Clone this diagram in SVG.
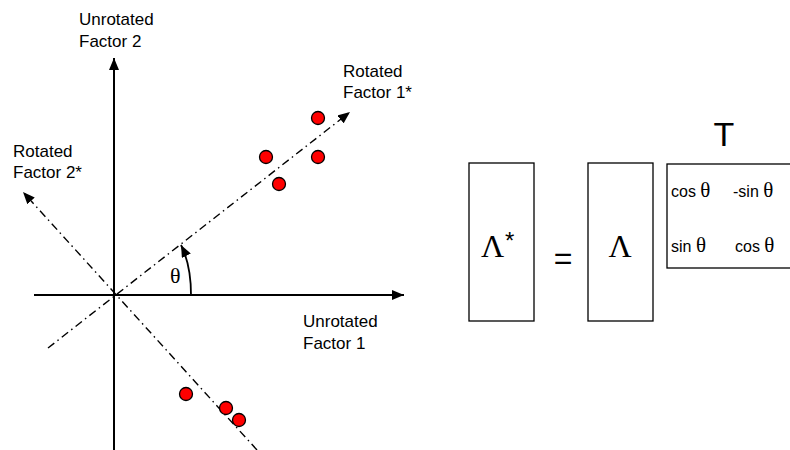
<svg xmlns="http://www.w3.org/2000/svg" width="790" height="450" viewBox="0 0 790 450">
<style>
.lbl{font-family:"Liberation Sans",Arial,sans-serif;font-size:17px;fill:#000}
.mx{font-family:"Liberation Sans",Arial,sans-serif;font-size:16px;fill:#000}
.ser{font-family:"Liberation Serif","Times New Roman",serif;fill:#000}
.axis{stroke:#000;stroke-width:2;fill:none}
.rot{stroke:#000;stroke-width:1.4;fill:none;stroke-dasharray:8 4 1.5 4}
.pt{fill:#f00;stroke:#000;stroke-width:1.3}
.box{fill:#fff;stroke:#000;stroke-width:1.3}
</style>
<defs>
<marker id="ah" viewBox="0 0 12 10" refX="12" refY="5" markerWidth="12" markerHeight="10" markerUnits="userSpaceOnUse" orient="auto">
<path d="M0,0 L12,5 L0,10 Z" fill="#000"/>
</marker>
</defs>
<rect width="790" height="450" fill="#fff"/>
<g id="connectors">
<line class="axis" x1="114" y1="450" x2="114" y2="58" marker-end="url(#ah)"/>
<line class="axis" x1="34" y1="295" x2="404" y2="295" marker-end="url(#ah)"/>
<line class="rot" x1="48" y1="348" x2="350" y2="112" marker-end="url(#ah)"/>
<line class="rot" x1="257" y1="450" x2="23" y2="192" marker-end="url(#ah)"/>
<path d="M191,295 Q191,265 181,245" stroke="#000" stroke-width="1.8" fill="none" marker-end="url(#ah)"/>
</g>
<g id="axis-labels">
<text class="lbl" x="79" y="25">Unrotated</text>
<text class="lbl" x="79" y="47">Factor 2</text>
<text class="lbl" x="303" y="327">Unrotated</text>
<text class="lbl" x="303" y="349">Factor 1</text>
<text class="lbl" x="343" y="77">Rotated</text>
<text class="lbl" x="343" y="98">Factor 1*</text>
<text class="lbl" x="13" y="157">Rotated</text>
<text class="lbl" x="13" y="178">Factor 2*</text>
<text class="ser" x="170" y="283" style="font-size:22px">θ</text>
</g>
<g id="points">
<circle class="pt" cx="318" cy="118" r="6.5"/>
<circle class="pt" cx="266" cy="157" r="6.5"/>
<circle class="pt" cx="318" cy="157" r="6.5"/>
<circle class="pt" cx="279" cy="184" r="6.5"/>
<circle class="pt" cx="186" cy="394" r="6.5"/>
<circle class="pt" cx="226" cy="408" r="6.5"/>
<circle class="pt" cx="239" cy="420" r="6.5"/>
</g>
<g id="lambda-star">
<rect class="box" x="469" y="163" width="65" height="158"/>
<text class="ser" x="481" y="257" style="font-size:32px">Λ</text>
<text class="lbl" x="505" y="249" style="font-size:24px">*</text>
</g>
<g id="equals">
<text class="lbl" x="563" y="269" style="font-size:32px" text-anchor="middle">=</text>
</g>
<g id="lambda">
<rect class="box" x="588" y="163" width="65" height="158"/>
<text class="ser" x="620" y="257" style="font-size:32px" text-anchor="middle">Λ</text>
</g>
<g id="T-matrix">
<text class="lbl" x="724" y="146" style="font-size:34px" text-anchor="middle">T</text>
<rect class="box" x="667" y="164" width="140" height="104"/>
<text class="mx" x="671" y="197">cos <tspan class="ser" style="font-size:21px">θ</tspan></text>
<text class="mx" x="733" y="197">-sin <tspan class="ser" style="font-size:21px">θ</tspan></text>
<text class="mx" x="671" y="252">sin <tspan class="ser" style="font-size:21px">θ</tspan></text>
<text class="mx" x="735" y="252">cos <tspan class="ser" style="font-size:21px">θ</tspan></text>
</g>
</svg>
